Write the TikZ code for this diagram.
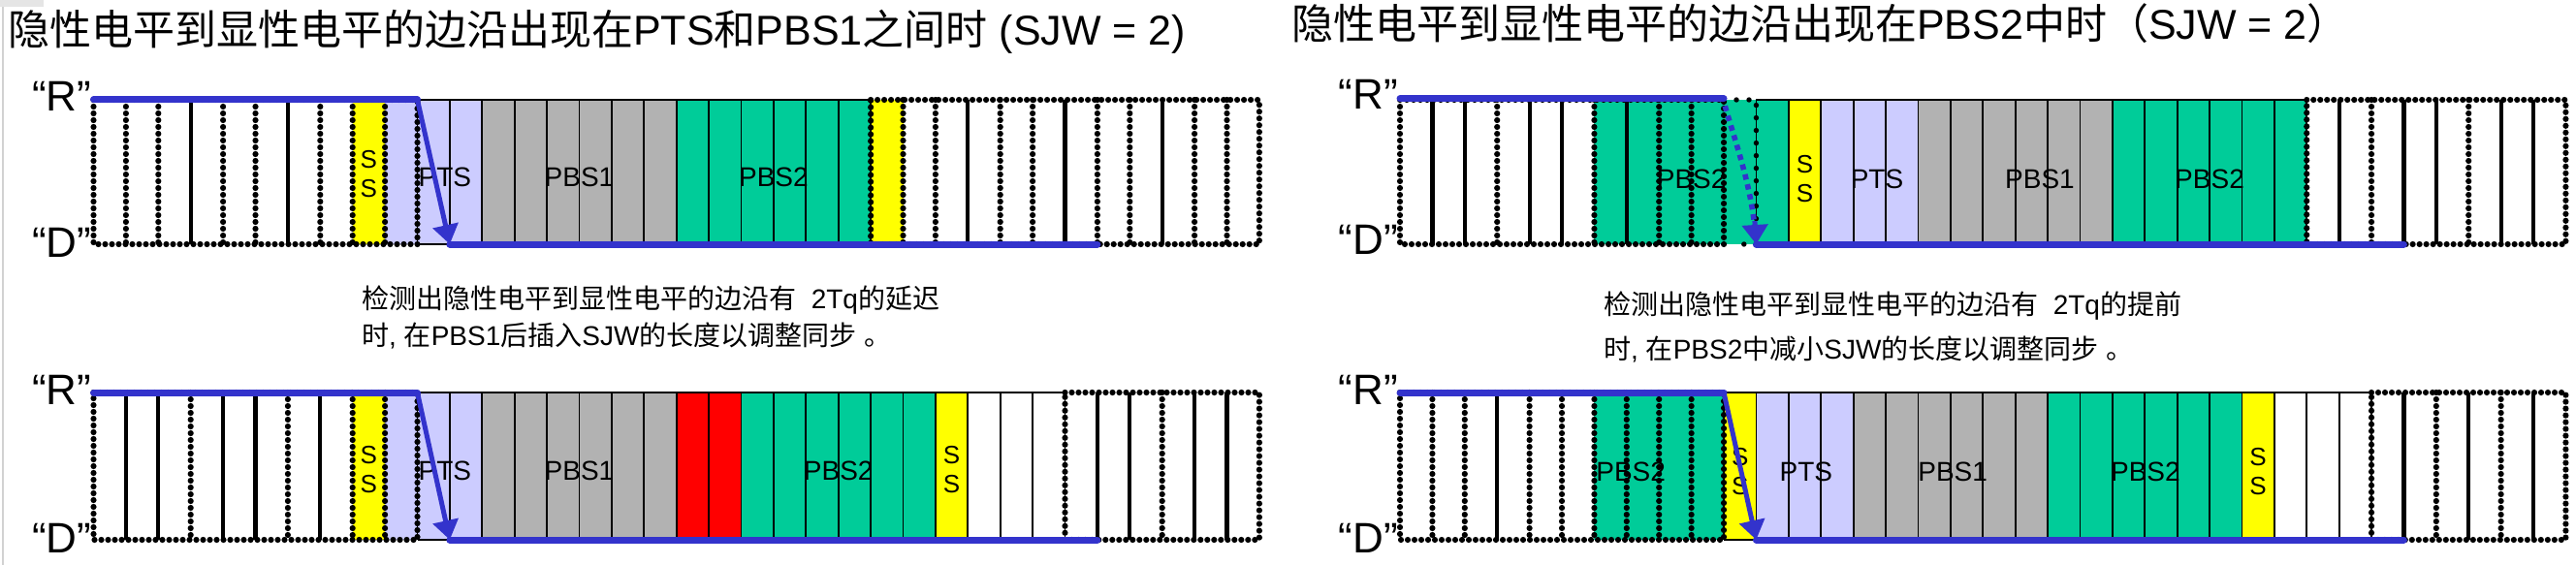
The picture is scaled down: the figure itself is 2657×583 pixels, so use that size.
\documentclass[tikz,border=0pt]{standalone}
\usepackage{fontspec}
\setmainfont{Liberation Sans}
\newfontfamily\cjk{Noto Sans CJK SC}
\usetikzlibrary{arrows.meta,decorations.markings}
\definecolor{wblue}{RGB}{51,51,204}
\definecolor{lav}{RGB}{204,204,255}
\definecolor{pgray}{RGB}{178,178,178}
\definecolor{pgreen}{RGB}{0,204,153}
\definecolor{pyel}{RGB}{255,255,0}
\definecolor{pred}{RGB}{255,0,0}
\def\cw{33.4}
\newcommand\cellrun[4]{\fill[#1] ({#2*\cw},0) rectangle ({#3*\cw},#4);}
\newcommand\solidpart[3]{% from, to, h
  \foreach \i in {#1,...,#2} {\draw[thinl] ({\i*\cw},0) -- ({\i*\cw},#3);}
  \draw[thinl] ({#1*\cw},0) -- ({#2*\cw},0);
  \draw[thinl] ({#1*\cw},#3) -- ({#2*\cw},#3);}
\newcommand\dotbox[3]{% from, to, h
  \path[dotb] ({#1*\cw},0) -- ({#2*\cw},0) -- ({#2*\cw},#3) -- ({#1*\cw},#3) -- ({#1*\cw},0);}
\begin{document}
\begin{tikzpicture}[x=1pt,y=-1pt,
  dotb/.style={postaction={decorate,decoration={markings,mark=between positions 0 and 1 step 7pt with {\fill[black] (0,0) circle (3.1pt);}}}},
  sparse/.style={postaction={decorate,decoration={markings,mark=between positions 0 and 1 step 13pt with {\fill[black] (0,0) circle (2.7pt);}}}},
  bluesq/.style={postaction={decorate,decoration={markings,mark=between positions 0 and 0.93 step 10.5pt with {\fill[wblue] (-2.8pt,-2.8pt) rectangle (2.8pt,2.8pt);}}}},
  tick/.style={line width=4.2pt,black},
  thinl/.style={line width=1.8pt,black},
  wave/.style={line width=7pt,wblue,line cap=round},
  edgearrow/.style={line width=5pt,wblue,-{Triangle[width=26pt,length=20pt]}},
  lbl/.style={inner sep=0pt,font=\fontsize{28}{30}\selectfont},
  sslbl/.style={inner sep=0pt,align=center,font=\fontsize{26}{30}\selectfont},
  rd/.style={inner sep=0pt,anchor=base east,font=\fontsize{44}{46}\selectfont},
  ttl/.style={inner sep=0pt,anchor=base west,font=\fontsize{43}{50}\selectfont},
  body/.style={inner sep=0pt,anchor=base west,font=\fontsize{28}{30}\selectfont}]
\fill[white] (0,0) rectangle (2657,583);
\useasboundingbox (0,0) rectangle (2657,583);
\fill[gray!20] (0,0) rectangle (45,7);
\draw[gray!35,line width=1.5pt] (3,7) -- (3,583);

% titles
\node[ttl] (title-l) at (8,47) {{\cjk 隐性电平到显性电平的边沿出现在}PTS{\cjk 和}PBS1{\cjk 之间时} (SJW = 2)};
\node[ttl] (title-r) at (1332,41) {{\cjk 隐性电平到显性电平的边沿出现在}PBS2{\cjk 中时（}SJW = 2{\cjk ）}};
% explanation texts
\node[body] (text-l1) at (373,318) {{\cjk 检测出隐性电平到显性电平的边沿有}\ \ 2Tq{\cjk 的延迟}};
\node[body] (text-l2) at (373,356) {{\cjk 时}, {\cjk 在}PBS1{\cjk 后插入}SJW{\cjk 的长度以调整同步} {\cjk 。}};
\node[body] (text-r1) at (1654,324) {{\cjk 检测出隐性电平到显性电平的边沿有}\ \ 2Tq{\cjk 的提前}};
\node[body] (text-r2) at (1654,370) {{\cjk 时}, {\cjk 在}PBS2{\cjk 中减小}SJW{\cjk 的长度以调整同步} {\cjk 。}};

%================ top left =================
\begin{scope}[shift={(96.5,103)}]
\def\h{149}
\cellrun{white}{0}{8}{\h}
\cellrun{pyel}{8}{9}{\h}
\cellrun{lav}{9}{12}{\h}
\cellrun{pgray}{12}{18}{\h}
\cellrun{pgreen}{18}{24}{\h}
\cellrun{pyel}{24}{25}{\h}
\cellrun{white}{25}{36}{\h}
\solidpart{10}{24}{\h}
\dotbox{0}{10}{\h}
\foreach \i in {1,2,4,5,7,8,9} {\path[dotb] ({\i*\cw},0) -- ({\i*\cw},\h);}
\foreach \i in {3,6} {\draw[tick] ({\i*\cw},0) -- ({\i*\cw},\h);}
\dotbox{24}{36}{\h}
\foreach \i in {25,26,28,29,31,32,34,35} {\path[dotb] ({\i*\cw},0) -- ({\i*\cw},\h);}
\foreach \i in {27,30,33} {\draw[tick] ({\i*\cw},0) -- ({\i*\cw},\h);}
\node[sslbl] (tl-ss1) at ({8.5*\cw},{\h/2+2}) {S\\S};
\node[lbl] (tl-pts) at ({10.85*\cw},{\h/2+5}) {PTS};
\node[lbl] (tl-pbs1) at ({15*\cw},{\h/2+5}) {PBS1};
\node[lbl] (tl-pbs2) at ({21*\cw},{\h/2+5}) {PBS2};
\node[rd] (tl-R) at (-2,12) {“R”};
\node[rd] (tl-D) at (-2,{\h+13}) {“D”};
\coordinate (tl-a) at (0,0);
\coordinate (tl-b) at ({10*\cw},0);
\coordinate (tl-c) at ({11*\cw},\h);
\coordinate (tl-d) at ({31*\cw},\h);
\draw[wave] (tl-a) -- (tl-b);
\draw[edgearrow] (tl-b) -- (tl-c);
\draw[wave] (tl-c) -- (tl-d);
\end{scope}

%================ bottom left =================
\begin{scope}[shift={(96.5,405)}]
\def\h{152}
\cellrun{white}{0}{8}{\h}
\cellrun{pyel}{8}{9}{\h}
\cellrun{lav}{9}{12}{\h}
\cellrun{pgray}{12}{18}{\h}
\cellrun{pred}{18}{20}{\h}
\cellrun{pgreen}{20}{26}{\h}
\cellrun{pyel}{26}{27}{\h}
\cellrun{white}{27}{36}{\h}
\solidpart{10}{30}{\h}
\dotbox{0}{10}{\h}
\foreach \i in {3,6,8,9} {\path[dotb] ({\i*\cw},0) -- ({\i*\cw},\h);}
\foreach \i in {1,2,4,5,7} {\draw[tick] ({\i*\cw},0) -- ({\i*\cw},\h);}
\dotbox{30}{36}{\h}
\foreach \i in {33} {\path[dotb] ({\i*\cw},0) -- ({\i*\cw},\h);}
\foreach \i in {31,32,34,35} {\draw[tick] ({\i*\cw},0) -- ({\i*\cw},\h);}
\node[sslbl] (bl-ss1) at ({8.5*\cw},{\h/2+4}) {S\\S};
\node[lbl] (bl-pts) at ({10.85*\cw},{\h/2+5}) {PTS};
\node[lbl] (bl-pbs1) at ({15*\cw},{\h/2+5}) {PBS1};
\node[lbl] (bl-pbs2) at ({23*\cw},{\h/2+5}) {PBS2};
\node[sslbl] (bl-ss2) at ({26.5*\cw},{\h/2+4}) {S\\S};
\node[rd] (bl-R) at (-2,12) {“R”};
\node[rd] (bl-D) at (-2,{\h+13}) {“D”};
\coordinate (bl-a) at (0,0);
\coordinate (bl-b) at ({10*\cw},0);
\coordinate (bl-c) at ({11*\cw},\h);
\coordinate (bl-d) at ({31*\cw},\h);
\draw[wave] (bl-a) -- (bl-b);
\draw[edgearrow] (bl-b) -- (bl-c);
\draw[wave] (bl-c) -- (bl-d);
\end{scope}

%================ top right =================
\begin{scope}[shift={(1444,103)}]
\def\h{149}
\cellrun{white}{0}{6}{\h}
\cellrun{pgreen}{6}{12}{\h}
\cellrun{pyel}{12}{13}{\h}
\cellrun{lav}{13}{16}{\h}
\cellrun{pgray}{16}{22}{\h}
\cellrun{pgreen}{22}{28}{\h}
\cellrun{white}{28}{36}{\h}
\solidpart{11}{28}{\h}
\dotbox{0}{10}{\h}
\foreach \i in {3,6,8,9} {\path[dotb] ({\i*\cw},0) -- ({\i*\cw},\h);}
\foreach \i in {1,2,4,5,7} {\draw[tick] ({\i*\cw},0) -- ({\i*\cw},\h);}
\path[sparse] ({10*\cw+13},0) -- ({11*\cw},0) -- ({11*\cw},\h) -- ({10*\cw+10},\h);
\dotbox{28}{36}{\h}
\foreach \i in {30,33} {\path[dotb] ({\i*\cw},0) -- ({\i*\cw},\h);}
\foreach \i in {29,31,32,34,35} {\draw[tick] ({\i*\cw},0) -- ({\i*\cw},\h);}
\node[lbl] (tr-pbs2a) at ({9*\cw},{\h/2+7}) {PBS2};
\node[sslbl] (tr-ss) at ({12.5*\cw},{\h/2+7}) {S\\S};
\node[lbl] (tr-pts) at ({14.73*\cw},{\h/2+7}) {PTS};
\node[lbl] (tr-pbs1) at ({19.76*\cw},{\h/2+7}) {PBS1};
\node[lbl] (tr-pbs2) at ({25*\cw},{\h/2+7}) {PBS2};
\node[rd] (tr-R) at (-2,10) {“R”};
\node[rd] (tr-D) at (-2,{\h+10}) {“D”};
\coordinate (tr-a) at (0,-1);
\coordinate (tr-b) at ({10*\cw},-1);
\coordinate (tr-s) at ({10*\cw+2},9);
\coordinate (tr-e) at ({11*\cw-1.5},{\h-24});
\coordinate (tr-c) at ({11*\cw},\h);
\coordinate (tr-d) at ({31*\cw},\h);
\draw[wave] (tr-a) -- (tr-b);
\path[bluesq] (tr-s) .. controls ({10*\cw+14},50) and ({11*\cw-3},95) .. (tr-c);
\draw[edgearrow] (tr-e) -- (tr-c);
\draw[wave] (tr-c) -- (tr-d);
\end{scope}

%================ bottom right =================
\begin{scope}[shift={(1444,405)}]
\def\h{152}
\cellrun{white}{0}{6}{\h}
\cellrun{pgreen}{6}{10}{\h}
\cellrun{pyel}{10}{11}{\h}
\cellrun{lav}{11}{14}{\h}
\cellrun{pgray}{14}{20}{\h}
\cellrun{pgreen}{20}{26}{\h}
\cellrun{pyel}{26}{27}{\h}
\cellrun{white}{27}{36}{\h}
\solidpart{10}{30}{\h}
\dotbox{0}{10}{\h}
\foreach \i in {1,2,4,5,6,7,8,9} {\path[dotb] ({\i*\cw},0) -- ({\i*\cw},\h);}
\foreach \i in {3} {\draw[tick] ({\i*\cw},0) -- ({\i*\cw},\h);}
\dotbox{30}{36}{\h}
\foreach \i in {32,34} {\path[dotb] ({\i*\cw},0) -- ({\i*\cw},\h);}
\foreach \i in {31,33,35} {\draw[tick] ({\i*\cw},0) -- ({\i*\cw},\h);}
\node[lbl] (br-pbs2a) at ({7.13*\cw},{\h/2+6}) {PBS2};
\node[sslbl] (br-ss1) at ({10.5*\cw},{\h/2+6}) {S\\S};
\node[lbl] (br-pts) at ({12.54*\cw},{\h/2+6}) {PTS};
\node[lbl] (br-pbs1) at ({17.07*\cw},{\h/2+6}) {PBS1};
\node[lbl] (br-pbs2) at ({23.02*\cw},{\h/2+6}) {PBS2};
\node[sslbl] (br-ss2) at ({26.5*\cw},{\h/2+6}) {S\\S};
\node[rd] (br-R) at (-2,12) {“R”};
\node[rd] (br-D) at (-2,{\h+13}) {“D”};
\coordinate (br-a) at (0,0);
\coordinate (br-b) at ({10*\cw},0);
\coordinate (br-c) at ({11*\cw},\h);
\coordinate (br-d) at ({31*\cw},\h);
\draw[wave] (br-a) -- (br-b);
\draw[edgearrow] (br-b) -- (br-c);
\draw[wave] (br-c) -- (br-d);
\end{scope}
\end{tikzpicture}
\end{document}
